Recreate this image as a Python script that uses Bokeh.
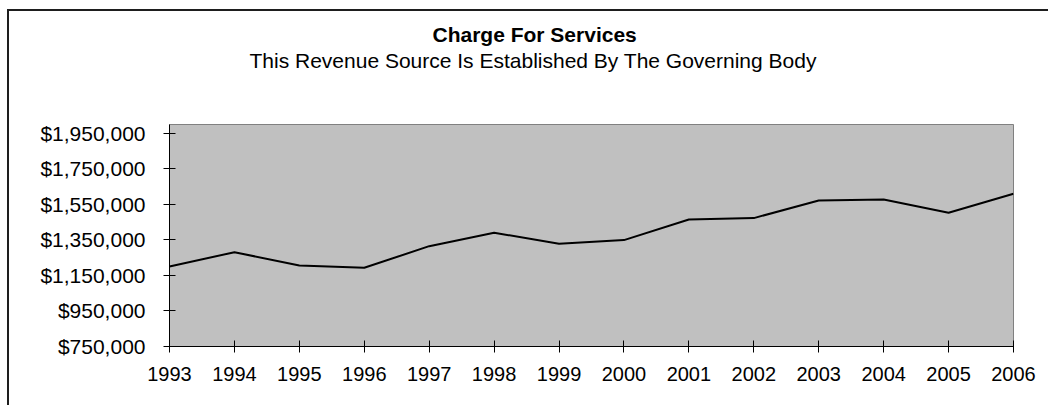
from bokeh.plotting import figure
from bokeh.models import (Range1d, FixedTicker, NumeralTickFormatter, PrintfTickFormatter, Title,
                          ColumnDataSource)
from bokeh.embed import file_html
from bokeh.resources import INLINE

years = [1993, 1994, 1995, 1996, 1997, 1998, 1999, 2000, 2001, 2002, 2003, 2004, 2005, 2006]
revenue = [1200000, 1281000, 1206000, 1193000, 1315000, 1391000, 1328000, 1349000,
           1465000, 1473000, 1572000, 1578000, 1503000, 1610000]
y_ticks = [750000, 950000, 1150000, 1350000, 1550000, 1750000, 1950000]
title_text = "Charge For Services"
subtitle_text = "This Revenue Source Is Established By The Governing Body"

FONT = "Liberation Sans"

p = figure(width=1041, height=396, output_backend="svg", toolbar_location=None,
           x_range=Range1d(1993, 2006), y_range=Range1d(750000, 2000000),
           min_border_left=160, min_border_right=37, min_border_top=113, min_border_bottom=61)
p.styles = {"margin-left": "7px", "margin-top": "9px",
            "border-top": "2px solid #1e1e1e", "border-left": "2px solid #1e1e1e"}
p.background_fill_color = "#C0C0C0"
p.border_fill_color = "white"
p.outline_line_color = "#808080"
p.outline_line_width = 1
p.xgrid.visible = False
p.ygrid.visible = False

src = ColumnDataSource(dict(x=years, y=revenue))
p.line("x", "y", source=src, line_color="black", line_width=2)

for ax in (p.xaxis[0], p.yaxis[0]):
    ax.axis_line_color = "black"
    ax.axis_line_width = 1
    ax.major_tick_line_color = "black"
    ax.major_tick_in = 6
    ax.major_tick_out = 6
    ax.minor_tick_line_color = None
    ax.major_label_text_font = FONT
    ax.major_label_text_color = "black"

p.xaxis.major_label_text_font_size = "20px"
p.yaxis.major_label_text_font_size = "21px"
p.xaxis.ticker = FixedTicker(ticks=years)
p.xaxis.formatter = PrintfTickFormatter(format="%d")
p.xaxis.major_label_standoff = 14
p.yaxis.ticker = FixedTicker(ticks=y_ticks)
p.yaxis.formatter = NumeralTickFormatter(format="$0,0")
p.yaxis.major_label_standoff = 18

# blank gap between the plot area and the subtitle
gap = Title(text=" ", text_font=FONT, text_font_size="1px", standoff=47)
p.add_layout(gap, "above")

sub = Title(text=subtitle_text, text_font=FONT, text_font_size="21px", text_font_style="normal",
            text_color="black", align="left", offset=80, vertical_align="top", standoff=2)
p.add_layout(sub, "above")
main = Title(text=title_text, text_font=FONT, text_font_size="21px", text_font_style="bold",
             text_color="black", align="left", offset=263, vertical_align="bottom", standoff=4)
p.add_layout(main, "above")

open("out.html", "w").write(file_html(p, INLINE))
